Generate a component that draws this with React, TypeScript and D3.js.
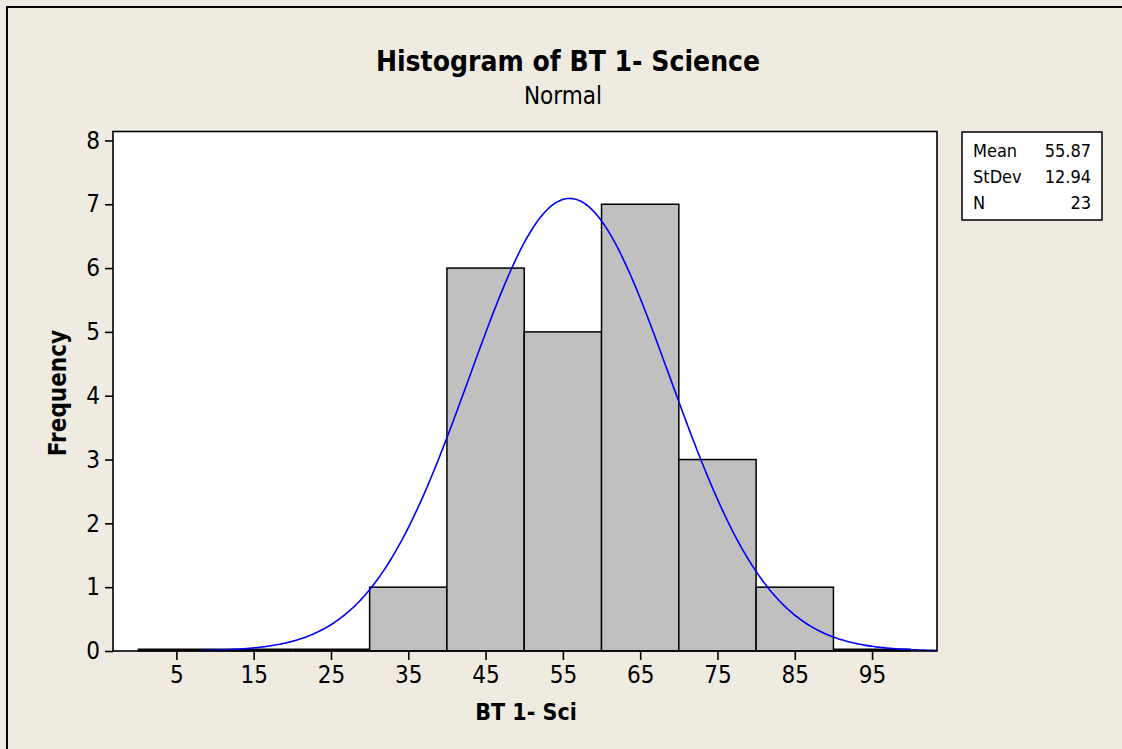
import { useRef, useEffect } from 'react';
import * as d3 from 'd3';

// histogram bins (lower edge, count)
const binStarts = [0, 10, 20, 30, 40, 50, 60, 70, 80, 90];
const binWidth = 10;
const counts = [0, 0, 0, 1, 6, 5, 7, 3, 1, 0];
const xTicks = [5, 15, 25, 35, 45, 55, 65, 75, 85, 95];
const yTicks = [0, 1, 2, 3, 4, 5, 6, 7, 8];

// fitted normal shown in the legend
const statLabels = ['Mean', 'StDev', 'N'];
const statValues = ['55.87', '12.94', '23'];
const mean = 55.87;
const stdev = 12.94;
const n = 23;

const W = 1122;
const H = 749;
const FONT = "Tahoma, 'DejaVu Sans Condensed', 'DejaVu Sans', sans-serif";

export default function App() {
  const svgRef = useRef<SVGSVGElement>(null);

  useEffect(() => {
    if (!svgRef.current) return;
    const svg = d3.select(svgRef.current);
    svg.selectAll('*').remove();

    const plot = { left: 113, right: 937, top: 131.5, bottom: 651 };
    const x = d3.scaleLinear().domain([-3.2, 103.4]).range([plot.left, plot.right]);
    const y = d3.scaleLinear().domain([0, 8.14]).range([plot.bottom, plot.top]);

    // background + outer frame
    svg.append('rect').attr('width', W).attr('height', H).attr('fill', '#EFEBE1');
    svg.append('rect')
      .attr('x', 7).attr('y', 7).attr('width', W + 20).attr('height', H + 20)
      .attr('fill', 'none').attr('stroke', '#000').attr('stroke-width', 2);

    svg.append('text')
      .attr('x', 568).attr('y', 71)
      .attr('text-anchor', 'middle')
      .style('font-family', FONT).style('font-weight', 'bold').style('font-size', '28px')
      .text('Histogram of BT 1- Science');
    svg.append('text')
      .attr('x', 563).attr('y', 104)
      .attr('text-anchor', 'middle')
      .style('font-family', FONT).style('font-size', '24px')
      .text('Normal');

    svg.append('rect')
      .attr('x', plot.left).attr('y', plot.top)
      .attr('width', plot.right - plot.left).attr('height', plot.bottom - plot.top)
      .attr('fill', '#fff');

    const bins = binStarts.map((s, i) => ({ x0: s, x1: s + binWidth, count: counts[i] }));

    // zero bins: just a heavy line on the baseline
    svg.selectAll('.zero')
      .data(bins.filter((d) => d.count === 0))
      .join('line')
      .attr('x1', (d) => x(d.x0)).attr('x2', (d) => x(d.x1))
      .attr('y1', y(0) - 1).attr('y2', y(0) - 1)
      .attr('stroke', '#000').attr('stroke-width', 3);

    svg.selectAll('.bar')
      .data(bins.filter((d) => d.count > 0))
      .join('rect')
      .attr('x', (d) => x(d.x0))
      .attr('y', (d) => y(d.count))
      .attr('width', (d) => x(d.x1) - x(d.x0))
      .attr('height', (d) => y(0) - y(d.count))
      .attr('fill', '#C0C0C0')
      .attr('stroke', '#000')
      .attr('stroke-width', 1.5);

    // normal curve scaled to counts (n * bin width)
    const scale = n * binWidth;
    const lo = mean - 3.7 * stdev;
    const hi = Math.min(mean + 3.7 * stdev, x.domain()[1]);
    const pdf = (v: number) => Math.exp(-0.5 * ((v - mean) / stdev) ** 2) / (stdev * Math.sqrt(2 * Math.PI));
    const pts = d3.range(lo, hi, 0.2).concat([hi]).map((v) => [v, scale * pdf(v)] as [number, number]);
    svg.append('path')
      .attr('d', d3.line().x((d) => x(d[0])).y((d) => y(d[1]))(pts) ?? '')
      .attr('fill', 'none')
      .attr('stroke', '#0000FF')
      .attr('stroke-width', 1.6);

    svg.append('rect')
      .attr('x', plot.left).attr('y', plot.top)
      .attr('width', plot.right - plot.left).attr('height', plot.bottom - plot.top)
      .attr('fill', 'none').attr('stroke', '#000').attr('stroke-width', 1.6);

    svg.append('g')
      .attr('transform', `translate(0,${plot.bottom})`)
      .call(d3.axisBottom(x).tickValues(xTicks).tickSize(9).tickPadding(6))
      .call((g) => g.select('.domain').remove())
      .call((g) => g.selectAll('line').attr('stroke', '#000').attr('stroke-width', 1.6))
      .call((g) => g.selectAll('text').attr('fill', '#000').style('font-family', FONT).style('font-size', '24px'));

    svg.append('g')
      .attr('transform', `translate(${plot.left},0)`)
      .call(d3.axisLeft(y).tickValues(yTicks).tickSize(8).tickPadding(5))
      .call((g) => g.select('.domain').remove())
      .call((g) => g.selectAll('line').attr('stroke', '#000').attr('stroke-width', 1.6))
      .call((g) => g.selectAll('text').attr('fill', '#000').style('font-family', FONT).style('font-size', '24px'));

    svg.append('text')
      .attr('x', 526).attr('y', 720)
      .attr('text-anchor', 'middle')
      .style('font-family', FONT).style('font-weight', 'bold').style('font-size', '23px')
      .text('BT 1- Sci');
    svg.append('text')
      .attr('transform', 'translate(66,393) rotate(-90)')
      .attr('text-anchor', 'middle')
      .style('font-family', FONT).style('font-weight', 'bold').style('font-size', '24px')
      .text('Frequency');

    // stats box
    const lg = svg.append('g');
    lg.append('rect')
      .attr('x', 962).attr('y', 132).attr('width', 140).attr('height', 88)
      .attr('fill', '#fff').attr('stroke', '#000').attr('stroke-width', 1.5);
    statLabels.forEach((lab, i) => {
      lg.append('text')
        .attr('x', 973).attr('y', 157 + i * 26)
        .style('font-family', FONT).style('font-size', '18px')
        .text(lab);
      lg.append('text')
        .attr('x', 1091).attr('y', 157 + i * 26)
        .attr('text-anchor', 'end')
        .style('font-family', FONT).style('font-size', '18px')
        .text(statValues[i]);
    });
  }, []);

  return <svg ref={svgRef} width={W} height={H} style={{ position: 'absolute', left: 0, top: 0 }} />;
}
